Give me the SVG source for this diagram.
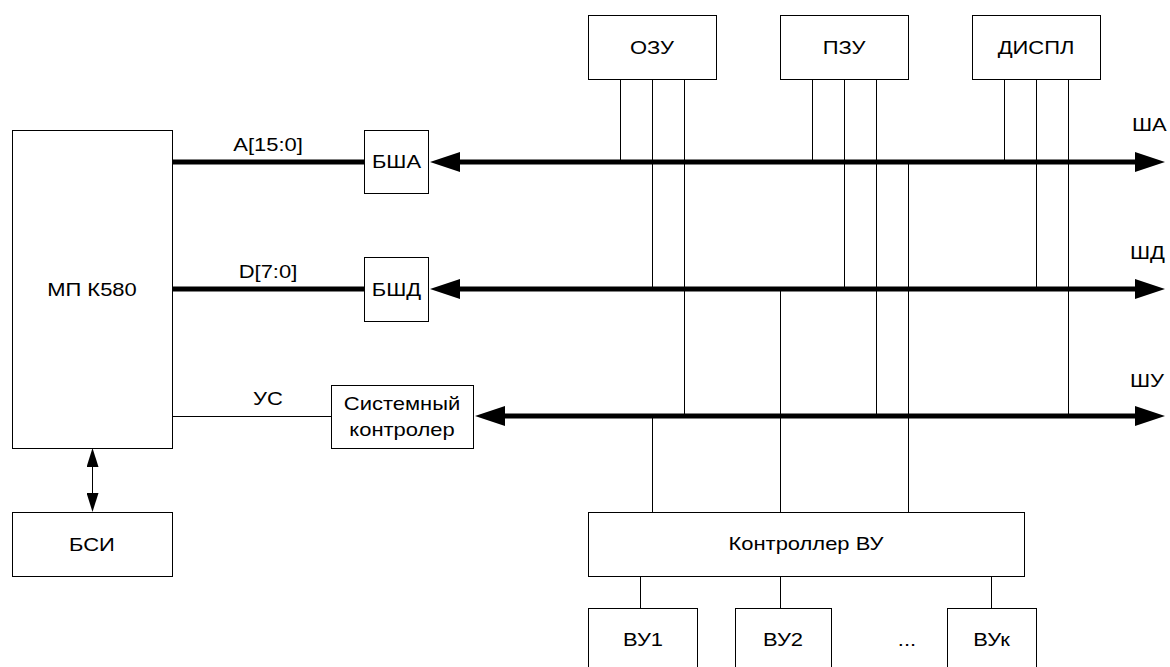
<svg xmlns="http://www.w3.org/2000/svg" width="1170" height="667" viewBox="0 0 1170 667">
<defs>
<style>
.box{fill:#fff;stroke:#000;stroke-width:1}
.t{font-family:"Liberation Sans",Arial,sans-serif;font-size:18px;fill:#000;text-anchor:middle}
.ts{font-family:"Liberation Sans",Arial,sans-serif;font-size:18px;fill:#000;text-anchor:start}
.bus{stroke:#000;stroke-width:5;fill:none}
.thin{stroke:#000;stroke-width:1;fill:none}
</style>
<marker id="big" viewBox="0 0 30 20" refX="0" refY="10" markerWidth="30" markerHeight="20" markerUnits="userSpaceOnUse" orient="auto-start-reverse">
<path d="M0,0 L30,10 L0,20 z" fill="#000"/>
</marker>
<marker id="small" viewBox="0 0 19 12" refX="0" refY="6" markerWidth="19" markerHeight="12" markerUnits="userSpaceOnUse" orient="auto-start-reverse">
<path d="M0,0 L19,6 L0,12 z" fill="#000"/>
</marker>
</defs>
<rect width="1170" height="667" fill="#fff"/>

<g id="connectors">
<line class="bus" x1="172" y1="162" x2="364" y2="162"/>
<line class="bus" x1="172" y1="289" x2="364" y2="289"/>
<line class="thin" x1="172" y1="416.5" x2="331" y2="416.5"/>
<line class="bus" x1="460" y1="162" x2="1135" y2="162" marker-start="url(#big)" marker-end="url(#big)"/>
<line class="bus" x1="460" y1="289" x2="1135" y2="289" marker-start="url(#big)" marker-end="url(#big)"/>
<line class="bus" x1="505" y1="416" x2="1135" y2="416" marker-start="url(#big)" marker-end="url(#big)"/>
<line class="thin" x1="92.5" y1="467" x2="92.5" y2="493" marker-start="url(#small)" marker-end="url(#small)"/>
<line class="thin" x1="620.5" y1="79" x2="620.5" y2="162"/>
<line class="thin" x1="652.5" y1="79" x2="652.5" y2="289"/>
<line class="thin" x1="684.5" y1="79" x2="684.5" y2="416"/>
<line class="thin" x1="812.5" y1="79" x2="812.5" y2="162"/>
<line class="thin" x1="844.5" y1="79" x2="844.5" y2="289"/>
<line class="thin" x1="876.5" y1="79" x2="876.5" y2="416"/>
<line class="thin" x1="1004.5" y1="79" x2="1004.5" y2="162"/>
<line class="thin" x1="1036.5" y1="79" x2="1036.5" y2="289"/>
<line class="thin" x1="1068.5" y1="79" x2="1068.5" y2="416"/>
<line class="thin" x1="652.5" y1="416" x2="652.5" y2="512"/>
<line class="thin" x1="780.5" y1="289" x2="780.5" y2="512"/>
<line class="thin" x1="908.5" y1="162" x2="908.5" y2="512"/>
<line class="thin" x1="640.5" y1="576" x2="640.5" y2="608"/>
<line class="thin" x1="780.5" y1="576" x2="780.5" y2="608"/>
<line class="thin" x1="991.5" y1="576" x2="991.5" y2="608"/>
<text class="t" transform="translate(268 151) scale(1.22 1)">A[15:0]</text>
<text class="t" transform="translate(268 278) scale(1.22 1)">D[7:0]</text>
<text class="t" transform="translate(268 405) scale(1.22 1)">УС</text>
<text class="ts" transform="translate(1132 131) scale(1.22 1)">ША</text>
<text class="ts" transform="translate(1130 259) scale(1.22 1)">ШД</text>
<text class="ts" transform="translate(1130 387) scale(1.22 1)">ШУ</text>
</g>

<g id="mp">
<rect class="box" x="12.5" y="130.5" width="160" height="318"/>
<text class="t" transform="translate(92 296) scale(1.22 1)">МП К580</text>
</g>
<g id="bsi">
<rect class="box" x="12.5" y="512.5" width="160" height="64"/>
<text class="t" transform="translate(92 551) scale(1.22 1)">БСИ</text>
</g>
<g id="bsha">
<rect class="box" x="364.5" y="130.5" width="64" height="63"/>
<text class="t" transform="translate(396.5 168) scale(1.22 1)">БША</text>
</g>
<g id="bshd">
<rect class="box" x="364.5" y="257.5" width="64" height="64"/>
<text class="t" transform="translate(396.5 296) scale(1.22 1)">БШД</text>
</g>
<g id="sysctl">
<rect class="box" x="331.5" y="385.5" width="142" height="63"/>
<text class="t" transform="translate(402 410) scale(1.22 1)">Системный</text>
<text class="t" transform="translate(402 436) scale(1.22 1)">контролер</text>
</g>
<g id="ozu">
<rect class="box" x="588.5" y="15.5" width="128" height="64"/>
<text class="t" transform="translate(652 54) scale(1.22 1)">ОЗУ</text>
</g>
<g id="pzu">
<rect class="box" x="780.5" y="15.5" width="128" height="64"/>
<text class="t" transform="translate(844 54) scale(1.22 1)">ПЗУ</text>
</g>
<g id="displ">
<rect class="box" x="972.5" y="15.5" width="128" height="64"/>
<text class="t" transform="translate(1036 54) scale(1.22 1)">ДИСПЛ</text>
</g>
<g id="ctrl-vu">
<rect class="box" x="588.5" y="512.5" width="436" height="64"/>
<text class="t" transform="translate(806 550) scale(1.22 1)">Контроллер ВУ</text>
</g>
<g id="vu1">
<rect class="box" x="588.5" y="608.5" width="109" height="80"/>
<text class="t" transform="translate(643 646) scale(1.22 1)">ВУ1</text>
</g>
<g id="vu2">
<rect class="box" x="735.5" y="608.5" width="96" height="80"/>
<text class="t" transform="translate(783 646) scale(1.22 1)">ВУ2</text>
</g>
<g id="dots">
<text class="t" transform="translate(907 646) scale(1.22 1)">...</text>
</g>
<g id="vuk">
<rect class="box" x="947.5" y="608.5" width="89" height="80"/>
<text class="t" transform="translate(991.5 646) scale(1.22 1)">ВУк</text>
</g>
</svg>
